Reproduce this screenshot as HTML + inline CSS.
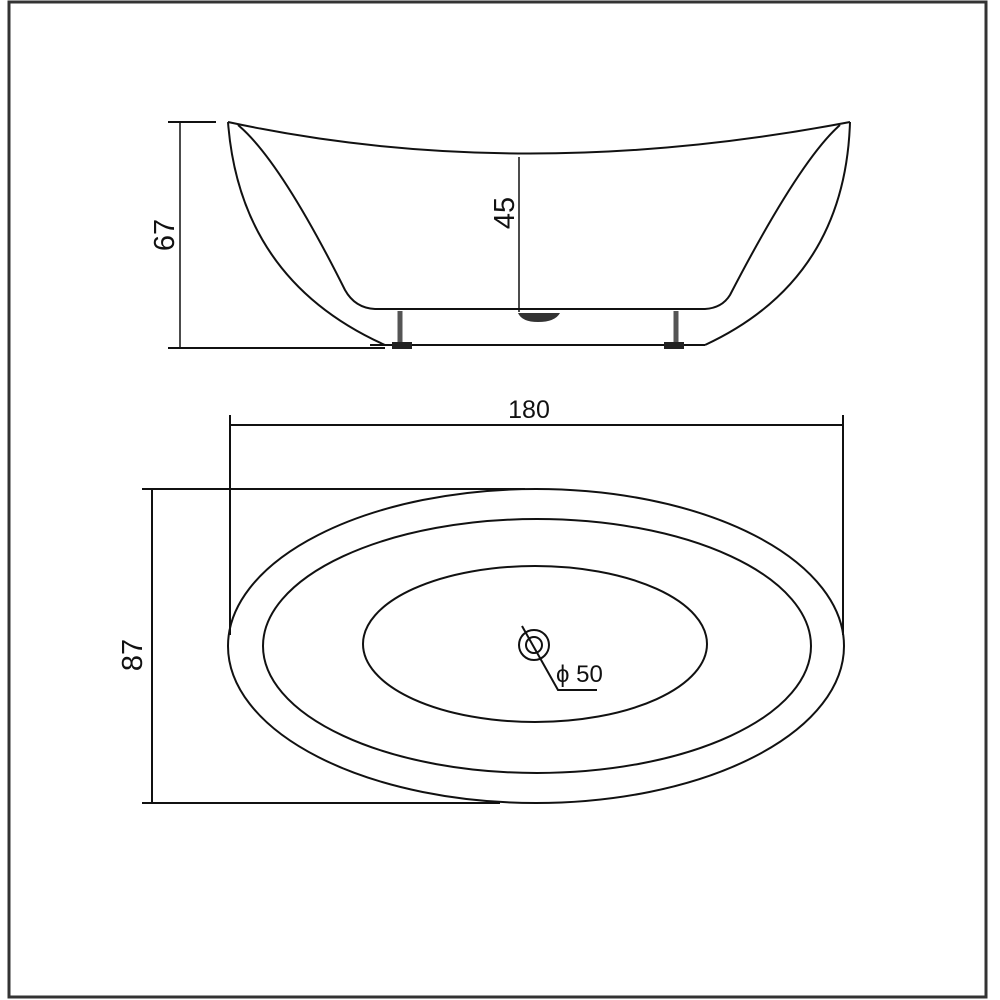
<!DOCTYPE html>
<html><head><meta charset="utf-8"><style>
html,body{margin:0;padding:0;background:#fff;}
svg{display:block;}
text{font-family:"Liberation Sans",Arial,sans-serif;fill:#111;}
</style></head><body>
<svg width="1000" height="1000" viewBox="0 0 1000 1000" xmlns="http://www.w3.org/2000/svg">
<rect x="9" y="2" width="977" height="995" fill="none" stroke="#333" stroke-width="3"/>
<g fill="none" stroke="#111" stroke-width="2">
  <path d="M228,122 Q520,185 850,122"/>
  <path d="M228,122 Q240,280 385,345"/>
  <path d="M850,122 Q845,280 705,345"/>
  <path d="M238,125 Q280,160 345,290 Q355,308 375,309 L705,309 Q722,308 730,295 Q800,160 840,125"/>
  <line x1="370" y1="345" x2="705" y2="345"/>
  <line x1="180" y1="122" x2="180" y2="348" stroke-width="1.5"/>
  <line x1="168" y1="122" x2="216" y2="122"/>
  <line x1="168" y1="348" x2="385" y2="348"/>
  <line x1="519" y1="157" x2="519" y2="312" stroke-width="1.5"/>
  <line x1="400" y1="311" x2="400" y2="342" stroke-width="5" stroke="#555"/>
  <line x1="676" y1="311" x2="676" y2="342" stroke-width="5" stroke="#555"/>
</g>
<rect x="392" y="342" width="20" height="7" fill="#222"/>
<rect x="664" y="342" width="20" height="7" fill="#222"/>
<path d="M518,313 L560,313 Q555,322 538,322 Q522,322 518,313Z" fill="#333"/>
<text transform="translate(174,235) rotate(-90)" font-size="29" text-anchor="middle">67</text>
<text transform="translate(514,213) rotate(-90)" font-size="29" text-anchor="middle">45</text>
<g fill="none" stroke="#111" stroke-width="2">
  <line x1="230" y1="425" x2="843" y2="425"/>
  <line x1="230" y1="415" x2="230" y2="635"/>
  <line x1="843" y1="415" x2="843" y2="635"/>
  <line x1="152" y1="489" x2="152" y2="803"/>
  <line x1="142" y1="489" x2="525" y2="489"/>
  <line x1="142" y1="803" x2="500" y2="803"/>
  <ellipse cx="536" cy="646" rx="308" ry="157"/>
  <ellipse cx="537" cy="646" rx="274" ry="127"/>
  <ellipse cx="535" cy="644" rx="172" ry="78"/>
  <circle cx="534" cy="645" r="15"/>
  <circle cx="534" cy="645" r="8"/>
  <polyline points="522,626 558,690 597,690"/>
</g>
<text x="529" y="418" font-size="25" text-anchor="middle">180</text>
<text transform="translate(142,655) rotate(-90)" font-size="29" text-anchor="middle">87</text>
<text x="556" y="682" font-size="24">ϕ 50</text>
</svg>
</body></html>
